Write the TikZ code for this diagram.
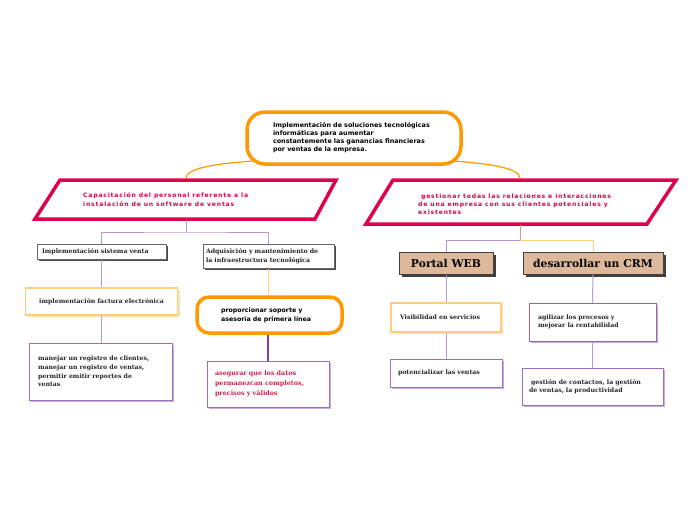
\documentclass[tikz,border=0pt]{standalone}
\usepackage{fontspec}
\usetikzlibrary{shadows}
\newfontfamily\sansb{DejaVu Sans}
\newfontfamily\pinkf{DejaVu Sans}[LetterSpace=13]
\newfontfamily\slab{DejaVu Serif}
\definecolor{pinkc}{HTML}{E0004D}
\definecolor{orng}{HTML}{FF9900}
\definecolor{lorng}{HTML}{FFCC80}
\definecolor{lpurp}{HTML}{B89AD0}
\definecolor{dpurp}{HTML}{7B3FA0}
\definecolor{mpurp}{HTML}{9A70BE}
\definecolor{tanc}{HTML}{DDB89A}
\definecolor{tanl}{HTML}{D0A080}
\definecolor{redt}{HTML}{D0204A}
\begin{document}
\begin{tikzpicture}[x=1pt,y=-1pt,
  txt/.style={font=\slab\bfseries\fontsize{6.2}{8.6}\selectfont, text=black!85, align=left, inner ysep=0pt},
  graybox/.style={draw=gray!80!black, line width=1pt, fill=white, txt,
     general shadow={shadow xshift=2pt, shadow yshift=-2pt, fill=black!70}},
  orbox/.style={draw=lorng, line width=1.2pt, fill=white, txt,
     general shadow={shadow xshift=2pt, shadow yshift=-2pt, fill=lorng!60}},
  pubox/.style={draw=mpurp, line width=1pt, fill=white, txt,
     general shadow={shadow xshift=2pt, shadow yshift=-2pt, fill=lpurp!80}},
  tanbox/.style={draw=black!75, line width=1pt, fill=tanc,
     font=\slab\bfseries\fontsize{10.8}{12}\selectfont, inner sep=0pt,
     general shadow={shadow xshift=2.5pt, shadow yshift=-2.5pt, fill=black!75}},
  roundor/.style={draw=orng, line width=3.5pt, fill=white},
  link/.style={draw=lpurp, line width=1pt},
]
\useasboundingbox[fill=white] (0,0) rectangle (696,520);

% root
\node[roundor, rounded corners=18pt, minimum width=214pt, minimum height=52pt,
      text width=162pt, align=left, inner sep=0pt,
      font=\sansb\bfseries\fontsize{6.4}{8}\selectfont] (root) at (354,138)
  {Implementación de soluciones tecnológicas\\informáticas para aumentar\\constantemente las ganancias financieras\\por ventas de la empresa.};

% parallelograms
\draw[pinkc, line width=3.5pt, line join=miter] (60,180) -- (336,180) -- (315,219) -- (35,219) -- cycle;
\node[anchor=west, text=pinkc, align=left, inner sep=0pt,
      font=\pinkf\bfseries\fontsize{6.1}{9}\selectfont] (pl) at (83,199.5)
  {Capacitación del personal  referente a la\\instalación de un software de ventas};
\draw[pinkc, line width=3.5pt, line join=miter] (393,180) -- (676,180) -- (647,224) -- (366,224) -- cycle;
\node[anchor=west, text=pinkc, align=left, inner sep=0pt,
      font=\pinkf\bfseries\fontsize{6.1}{8}\selectfont] (pr) at (418,204)
  {\ gestionar todas las relaciones e interacciones\\de una empresa con sus clientes potenciales y\\existentes};
\coordinate (pltop) at (186,178.5);
\coordinate (plbot) at (186,220);
\coordinate (prtop) at (520,178.5);
\coordinate (prbot) at (520,225);
\coordinate (rootl) at (252,161);
\coordinate (rootr) at (454,161);

\draw[orng, line width=1.2pt] (pltop) .. controls (186,168) and (215,164) .. (rootl);
\draw[orng, line width=1.2pt] (prtop) .. controls (520,168) and (491,164) .. (rootr);

% left branch boxes
\node[graybox, minimum width=129pt, minimum height=15pt, text width=119pt, inner xsep=5pt] (b1) at (101.5,251.5) {Implementación sistema venta};
\node[graybox, minimum width=131pt, minimum height=24pt, text width=125pt, inner xsep=3pt] (b2) at (268.5,256) {Adquisición y mantenimiento de\\la infraestructura tecnológica};
\node[orbox, minimum width=152pt, minimum height=27pt, align=center] (b3) at (101.5,301.5) {implementación factura electrónica};
\node[pubox, minimum width=143pt, minimum height=57pt, text width=125pt, inner xsep=9pt] (b4) at (100.5,371.5) {manejar un registro de clientes,\\manejar un registro de ventas,\\permitir emitir reportes de\\ventas};
\node[roundor, rounded corners=12pt, minimum width=145pt, minimum height=36pt, text width=97pt, inner xsep=24pt, align=left,
      font=\sansb\bfseries\fontsize{6.3}{8.8}\selectfont] (b5) at (269.5,315) {proporcionar soporte y\\asesoría de primera línea};
\node[pubox, minimum width=122pt, minimum height=46pt, text width=106pt, inner xsep=8pt, text=redt,
      font=\slab\bfseries\fontsize{6.4}{10}\selectfont] (b6) at (268,384) {asegurar que los datos\\permanezcan completos,\\precisos y válidos};

% right branch boxes
\node[tanbox, minimum width=94pt, minimum height=22pt] (b7) at (446,263) {Portal WEB};
\node[tanbox, minimum width=140pt, minimum height=22pt] (b8) at (593,263) {desarrollar un CRM};
\node[orbox, minimum width=110pt, minimum height=29pt, text width=92pt, inner xsep=9pt] (b9) at (446,317.5) {Visibilidad en servicios};
\node[pubox, minimum width=112pt, minimum height=28pt, text width=96pt, inner xsep=8pt] (b10) at (446,373) {potencializar  las ventas};
\node[pubox, draw=dpurp!80, minimum width=127pt, minimum height=38pt, text width=109pt, inner xsep=9pt] (b11) at (592.5,322) {agilizar los procesos y\\mejorar la rentabilidad};
\node[pubox, minimum width=141pt, minimum height=37pt, text width=127pt, inner xsep=7pt] (b12) at (592.5,386.5) {\ gestión de contactos, la gestión\\de ventas, la productividad};

% left connectors
\coordinate (lj) at (186,232);
\draw[link] (plbot) -- (lj);
\draw[link] (b1.north) |- (lj) -| (b2.north);
\draw[link] (b1.south) -- (b3.north);
\draw[link] (b3.south) -- (b3.south |- b4.north);
\draw[lorng, line width=1pt] (b2.south) -- (b2.south |- b5.north);
\draw[dpurp, line width=2pt] (b5.south -| b6.north) -- (b6.north);

% right connectors
\coordinate (rj) at (520,240);
\draw[tanl, line width=1pt] (prbot) -- (rj);
\draw[link] (rj) -| (b7.north);
\draw[lorng, line width=1pt] (rj) -| (b8.north);
\draw[link] (b7.south) -- (b9.north);
\draw[link] (b9.south) -- (b10.north);
\draw[link] (b8.south) -- (b11.north);
\draw[link] (b11.south) -- (b12.north);
\end{tikzpicture}
\end{document}
